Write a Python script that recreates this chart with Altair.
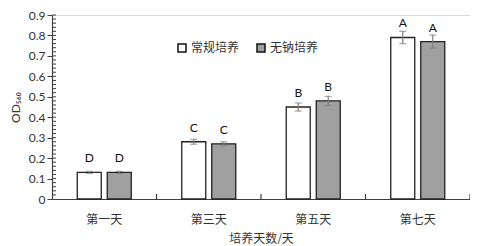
import altair as alt
import pandas as pd

days = ["第一天", "第三天", "第五天", "第七天"]
groups = ["常规培养", "无钠培养"]
normal = [0.13, 0.28, 0.45, 0.79]
nosodium = [0.13, 0.27, 0.48, 0.77]
normal_err = [0.005, 0.012, 0.02, 0.03]
nosodium_err = [0.005, 0.01, 0.022, 0.032]
letters_normal = ["D", "C", "B", "A"]
letters_nosodium = ["D", "C", "B", "A"]
y_ticks = [0, 0.1, 0.2, 0.3, 0.4, 0.5, 0.6, 0.7, 0.8, 0.9]
minor_ticks = [round(0.02 * i, 2) for i in range(1, 46)]

rows = []
for i, d in enumerate(days):
    rows.append(dict(day=d, group=groups[0], v=normal[i], lo=normal[i] - normal_err[i],
                     hi=normal[i] + normal_err[i], letter=letters_normal[i]))
    rows.append(dict(day=d, group=groups[1], v=nosodium[i], lo=nosodium[i] - nosodium_err[i],
                     hi=nosodium[i] + nosodium_err[i], letter=letters_nosodium[i]))
df = pd.DataFrame(rows)

W, H = 418, 184
CJK = "Noto Sans CJK SC"
NUM = "Lato"

x_axis = alt.Axis(title="培养天数/天", ticks=False, labelPadding=15, labelFont=CJK,
                  labelFontSize=12, labelColor="#333333", titleFont=CJK,
                  titleFontSize=12, titleFontWeight="normal", titleColor="#333333",
                  titlePadding=8, domainColor="#404040", domainWidth=1.2, labelAngle=0)
y_axis = alt.Axis(title="OD₅₆₀", values=y_ticks, format="~g", grid=False,
                  labelOverlap=False, tickSize=5, tickColor="#404040", domainColor="#404040",
                  domainWidth=1.2, labelFont=NUM, labelFontSize=12,
                  labelColor="#333333", labelPadding=2, titleFont=NUM,
                  titleFontSize=12, titleFontWeight="normal", titleColor="#333333",
                  titlePadding=6)
x_scale = alt.Scale(paddingInner=0, paddingOuter=0)
y_scale = alt.Scale(domain=[0, 0.9], nice=False)

def X(**kw):
    return alt.X("day:N", sort=days, scale=x_scale, axis=x_axis, **kw)

def Y(field):
    return alt.Y(field, scale=y_scale, axis=y_axis)

xo = alt.XOffset("group:N", sort=groups,
                 scale=alt.Scale(paddingInner=0, paddingOuter=0.742))

base = alt.Chart(df)

bars = base.mark_bar(size=24, stroke="#222222", strokeWidth=1.3).encode(
    x=X(), xOffset=xo, y=Y("v:Q"),
    fill=alt.Fill("group:N", sort=groups,
                  scale=alt.Scale(domain=groups, range=["#ffffff", "#a0a0a0"]),
                  legend=alt.Legend(title=None, orient="none", legendX=124, legendY=27,
                                    direction="horizontal", symbolType="square",
                                    symbolSize=64, symbolStrokeColor="#111111",
                                    symbolStrokeWidth=1.5, labelFont=CJK,
                                    labelFontSize=12, labelColor="#333333",
                                    columnPadding=14, labelOffset=3)),
)

err = base.mark_rule(color="#7f7f7f", strokeWidth=1.2).encode(
    x=X(), xOffset=xo, y=Y("lo:Q"), y2="hi:Q")
cap_lo = base.mark_tick(orient="horizontal", size=7, thickness=1.2, color="#7f7f7f").encode(
    x=X(), xOffset=xo, y=Y("lo:Q"))
cap_hi = base.mark_tick(orient="horizontal", size=7, thickness=1.2, color="#7f7f7f").encode(
    x=X(), xOffset=xo, y=Y("hi:Q"))

labels = base.mark_text(font=NUM, fontSize=12, color="#111111", baseline="alphabetic", dy=-10).encode(
    x=X(), xOffset=xo, y=Y("v:Q"), text="letter:N")

minor = alt.Chart(pd.DataFrame({"m": minor_ticks})).mark_rule(color="#404040", strokeWidth=1).encode(
    y=Y("m:Q"), x=alt.value(0), x2=alt.value(4))

xticks = alt.Chart(pd.DataFrame({"day": days})).mark_rule(color="#404040", strokeWidth=1.2).encode(
    x=X(bandPosition=1), y=alt.value(H - 5), y2=alt.value(H))

chart = alt.layer(bars, err, cap_lo, cap_hi, labels, minor, xticks).properties(
    width=W, height=H,
    autosize=alt.AutoSizeParams(type="none"),
    padding={"left": 44, "top": 7, "right": 0, "bottom": 45},
).configure_view(stroke=None).configure(background="white")

chart.save("out.html", embed_options={"renderer": "svg", "actions": False})
